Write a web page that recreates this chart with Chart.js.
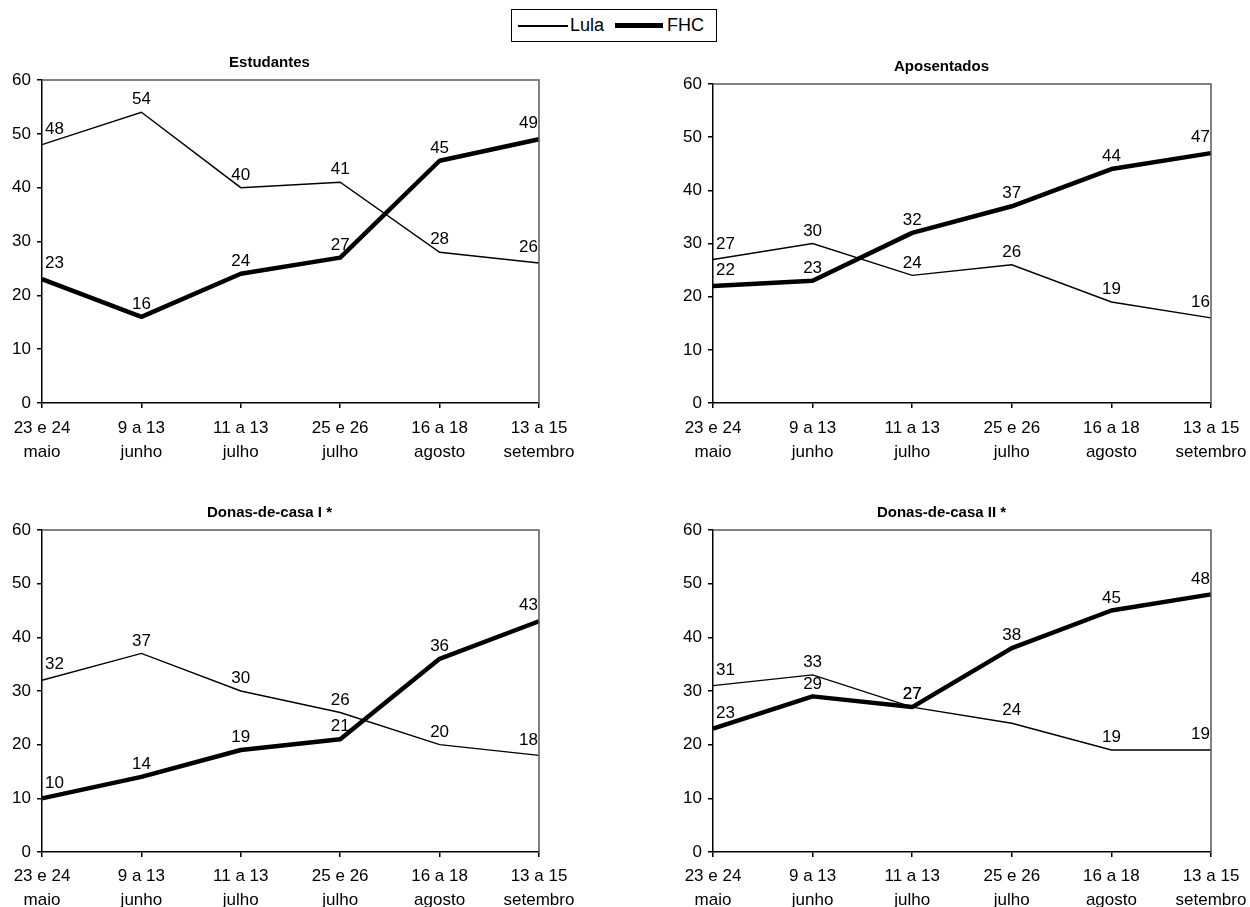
<!DOCTYPE html>
<html>
<head>
<meta charset="utf-8">
<script src="https://cdn.jsdelivr.net/npm/chart.js@4.4.1/dist/chart.umd.min.js"></script>
<style>
  html, body { margin: 0; padding: 0; background: #fff; }
  #page { position: relative; width: 1250px; height: 907px; overflow: hidden; font-family: "Liberation Sans", Arial, sans-serif; }
  canvas { position: absolute; }
  #legend { position: absolute; left: 511px; top: 9px; width: 204px; height: 31px; border: 1px solid #000; background: #fff; }
  #legend .ln { position: absolute; background: #000; }
  #legend .tx { position: absolute; top: 5px; font-size: 18px; line-height: 20px; color: #000; }
</style>
</head>
<body>
<div id="page">
  <div id="legend">
    <div class="ln" style="left:6px; top:15px; width:50px; height:1.5px;"></div>
    <div class="tx" style="left:58px;">Lula</div>
    <div class="ln" style="left:103px; top:13px; width:48px; height:5px;"></div>
    <div class="tx" style="left:155px;">FHC</div>
  </div>
  <canvas id="c1" width="620" height="430" style="left:0px; top:45px;"></canvas>
  <canvas id="c2" width="620" height="430" style="left:672px; top:45px;"></canvas>
  <canvas id="c3" width="620" height="412" style="left:0px; top:495px;"></canvas>
  <canvas id="c4" width="620" height="412" style="left:672px; top:495px;"></canvas>
</div>
<script>
// Survey periods (two-line category labels)
const periods = [
  ['23 e 24', 'maio'],
  ['9 a 13', 'junho'],
  ['11 a 13', 'julho'],
  ['25 e 26', 'julho'],
  ['16 a 18', 'agosto'],
  ['13 a 15', 'setembro']
];

// Voting intention (%) by group
const estudantesLula = [48, 54, 40, 41, 28, 26];
const estudantesFHC  = [23, 16, 24, 27, 45, 49];

const aposentadosLula = [27, 30, 24, 26, 19, 16];
const aposentadosFHC  = [22, 23, 32, 37, 44, 47];

const donasILula = [32, 37, 30, 26, 20, 18];
const donasIFHC  = [10, 14, 19, 21, 36, 43];

const donasIILula = [31, 33, 27, 24, 19, 19];
const donasIIFHC  = [23, 29, 27, 38, 45, 48];

const yTicks = [0, 10, 20, 30, 40, 50, 60];

const FONT = '"Liberation Sans", Arial, sans-serif';

// Writes each value just above its point, kept inside the plot area
const valueLabels = {
  id: 'valueLabels',
  afterDatasetsDraw(chart) {
    const { ctx, chartArea } = chart;
    ctx.save();
    ctx.font = '17px ' + FONT;
    ctx.fillStyle = '#000';
    ctx.textBaseline = 'bottom';
    ctx.textAlign = 'left';
    chart.data.datasets.forEach((ds, i) => {
      const meta = chart.getDatasetMeta(i);
      meta.data.forEach((pt, j) => {
        const text = String(ds.data[j]);
        const w = ctx.measureText(text).width;
        let x = pt.x - w / 2;
        let lift = 4;
        if (x < chartArea.left + 3) { x = chartArea.left + 3; lift += 3; }
        if (x + w > chartArea.right - 1) { x = chartArea.right - 1 - w; lift += 3; }
        ctx.fillText(text, x, pt.y - lift);
      });
    });
    ctx.restore();
  }
};

// Grey frame on the top and right of the plot area
const plotFrame = {
  id: 'plotFrame',
  afterDraw(chart) {
    const { ctx, chartArea: a } = chart;
    ctx.save();
    ctx.strokeStyle = '#5a5a5a';
    ctx.lineWidth = 1.5;
    ctx.beginPath();
    ctx.moveTo(a.left, a.top);
    ctx.lineTo(a.right, a.top);
    ctx.lineTo(a.right, a.bottom);
    ctx.stroke();
    ctx.restore();
  }
};

function makeChart(id, title, lula, fhc, geom) {
  return new Chart(document.getElementById(id), {
    type: 'line',
    data: {
      labels: periods,
      datasets: [
        { label: 'Lula', data: lula, borderColor: '#000', borderWidth: 1.4, pointRadius: 0, tension: 0, fill: false },
        { label: 'FHC', data: fhc, borderColor: '#000', borderWidth: 4.5, pointRadius: 0, tension: 0, fill: false, borderJoinStyle: 'round' }
      ]
    },
    options: {
      responsive: false,
      animation: false,
      devicePixelRatio: 1,
      layout: { padding: { left: 0, right: geom.right, top: 0, bottom: 0 } },
      plugins: {
        legend: { display: false },
        tooltip: { enabled: false },
        title: {
          display: true,
          text: title,
          color: '#000',
          font: { family: FONT, size: 15, weight: 'bold', lineHeight: 1.2 },
          padding: { top: geom.titleTop, bottom: geom.titleBottom }
        }
      },
      scales: {
        x: {
          type: 'category',
          offset: false,
          afterFit(scale) { scale.height = geom.xHeight; },
          grid: { display: true, drawOnChartArea: false, drawTicks: true, tickLength: 5, color: '#000', lineWidth: 1.5 },
          border: { display: true, color: '#000', width: 1.5 },
          ticks: { color: '#000', maxRotation: 0, autoSkip: false, padding: geom.xPad, font: { family: FONT, size: 17, lineHeight: 1.41 } }
        },
        y: {
          min: 0,
          max: 60,
          afterFit(scale) { scale.width = geom.yWidth; },
          afterBuildTicks(scale) { scale.ticks = yTicks.map(v => ({ value: v })); },
          grid: { display: true, drawOnChartArea: false, drawTicks: true, tickLength: 5, color: '#000', lineWidth: 1.5 },
          border: { display: true, color: '#000', width: 1.5 },
          ticks: { color: '#000', padding: 6, font: { family: FONT, size: 17 } }
        }
      }
    },
    plugins: [valueLabels, plotFrame]
  });
}

makeChart('c1', 'Estudantes', estudantesLula, estudantesFHC,
  { right: 81, titleTop: 9, titleBottom: 8, xHeight: 72, yWidth: 42, xPad: 8 });
makeChart('c2', 'Aposentados', aposentadosLula, aposentadosFHC,
  { right: 81, titleTop: 13, titleBottom: 8, xHeight: 72, yWidth: 41, xPad: 8 });
makeChart('c3', 'Donas-de-casa I *', donasILula, donasIFHC,
  { right: 81, titleTop: 9, titleBottom: 8, xHeight: 55, yWidth: 42, xPad: 7 });
makeChart('c4', 'Donas-de-casa II *', donasIILula, donasIIFHC,
  { right: 81, titleTop: 9, titleBottom: 8, xHeight: 55, yWidth: 41, xPad: 7 });
</script>
</body>
</html>
